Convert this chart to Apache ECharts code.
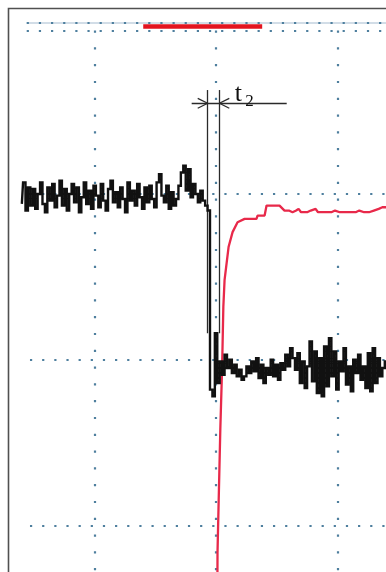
<!DOCTYPE html>
<html>
<head>
<meta charset="utf-8">
<script src="https://cdn.jsdelivr.net/npm/echarts@6/dist/echarts.min.js"></script>
<style>
  html, body { margin: 0; padding: 0; background: #fff; }
  #scope { width: 386px; height: 572px; }
</style>
</head>
<body>
<div id="scope"></div>
<script>
// Time base: 100 units per horizontal division, vertical: 100 units per division.
const T0 = 40;          // first black sample
const DT = 2;           // sample spacing

// Channel 1 (black): high level, falls at the switching instant, low level afterwards.
const ch1 = [
  294, 307, 290, 304, 293, 303, 291, 300, 307, 294,
  289, 304, 296, 306, 292, 299, 308, 293, 303, 290,
  300, 306, 295, 304, 289, 298, 307, 294, 302, 291,
  305, 299, 292, 306, 296, 290, 303, 308, 295, 301,
  292, 304, 297, 289, 307, 296, 302, 293, 306, 298,
  291, 304, 295, 305, 297, 292, 307, 312, 299, 295,
  305, 291, 301, 293, 297, 305, 313, 317, 302, 315,
  298, 306, 300, 295, 302, 296, 293, 290,
  182, 178, 216, 186, 199, 191, 203, 195, 200, 192,
  197, 190, 194, 188, 190, 196, 192, 199, 193, 201,
  189, 197, 186, 195, 191, 200, 190, 197, 188, 198,
  194, 203, 196, 207, 201, 194, 204, 186, 199, 183,
  196, 211, 187, 205, 180, 201, 178, 208, 184, 213,
  190, 205, 182, 199, 193, 207, 185, 196, 181, 200,
  192, 203, 188, 196, 183, 204, 181, 207, 186, 201,
  190, 195, 199
];

// Channel 2 (red): rise after the switching instant, settles near 289.
const ch2 = [
  [201, 40], [201.2, 84], [202, 110], [203.5, 158], [205, 196],
  [206, 232], [207, 248], [210.3, 268], [213.6, 277], [217.7, 283],
  [223.5, 285], [233.3, 285], [234.2, 287], [240, 287], [241.6, 293],
  [252.3, 293], [256.4, 290], [260, 290], [263, 289], [266, 290],
  [268, 291], [270, 289], [275, 289], [278, 290], [282, 291],
  [284, 289], [290, 289], [295, 289], [298, 290], [302, 289],
  [310, 289], [315, 289], [318, 290], [322, 289], [326, 289],
  [330, 290], [334, 291], [337, 292], [341, 292]
];

// Trigger/position bar along the top edge
const topBar = [[140, 401], [238, 401]];

// Cursor pair and the t2 interval marker
const cursors = [193.1, 202.7];
const cursorSpan = [216, 362.7];
const markerY = 354.7;
const markerSpan = [179.9, 258.2];
const labelMain = { text: 't', at: [215.4, 360.2] };
const labelSub = { text: '2', at: [224.0, 356] };

// Graticule
const divX = [100, 200, 300];
const divY = [100, 200, 300];
const topRows = [403.1, 398.3];

const xMin = 22, xMax = 340, yMin = 72, yMax = 417;

const ch1Data = ch1.map((v, i) => [T0 + i * DT, v]);

const dotColor = '#4e7f9e';
function seg(a, b) { return [{ coord: a }, { coord: b }]; }

function markerSeries(name, lines, lineStyle, z) {
  return {
    name, type: 'line', data: [], silent: true, z: z || 1,
    markLine: {
      silent: true, animation: false, symbol: ['none', 'none'],
      label: { show: false }, emphasis: { disabled: true },
      lineStyle: lineStyle,
      data: lines
    }
  };
}

const rowLines = divY.map(y => seg([46.7, y], [xMax, y]));
const colLines = divX.map(x => seg([x, 398.6], [x, yMin]));
const topDotLines = topRows.map(y => seg([44.0, y], [xMax, y]));
const topFaint = [seg([44.0, topRows[0]], [xMax, topRows[0]])];

const cursorLines = cursors.map(x => seg([x, cursorSpan[1]], [x, cursorSpan[0]]));
const ax = 8.2, ay = 3;
const arrowLines = [
  seg([markerSpan[0], markerY], [markerSpan[1], markerY]),
  seg([cursors[0] - ax, markerY + ay], [cursors[0], markerY]),
  seg([cursors[0] - ax, markerY - ay], [cursors[0], markerY]),
  seg([cursors[1] + ax, markerY + ay], [cursors[1], markerY]),
  seg([cursors[1] + ax, markerY - ay], [cursors[1], markerY])
];

const serif = 'Liberation Serif';

const chart = echarts.init(document.getElementById('scope'), null, { renderer: 'canvas' });
chart.setOption({
  animation: false,
  backgroundColor: '#ffffff',
  grid: { left: 0, right: 0, top: 0, bottom: 0 },
  xAxis: {
    type: 'value', min: xMin, max: xMax,
    axisLine: { show: false }, axisTick: { show: false },
    axisLabel: { show: false }, splitLine: { show: false }
  },
  yAxis: {
    type: 'value', min: yMin, max: yMax,
    axisLine: { show: false }, axisTick: { show: false },
    axisLabel: { show: false }, splitLine: { show: false }
  },
  graphic: [{
    type: 'rect', silent: true, z: 100,
    shape: { x: 8.5, y: 8.5, width: 420, height: 620 },
    style: { fill: null, stroke: '#505050', lineWidth: 1.6 }
  }],
  series: [
    markerSeries('faint', topFaint, { color: '#c3d2df', width: 1.6, type: 'solid' }, 1),
    markerSeries('rows', rowLines.concat(topDotLines),
      { color: dotColor, width: 2.2, type: [2.2, 9.95] }, 2),
    markerSeries('cols', colLines,
      { color: dotColor, width: 2.2, type: [2.2, 14.6] }, 2),
    {
      name: 'bar', type: 'line', data: topBar, clip: false, z: 5,
      symbol: 'none', silent: true,
      lineStyle: { color: '#e3141f', width: 4.5, cap: 'butt' }
    },
    {
      name: 'CH2', type: 'line', data: ch2, z: 6,
      symbol: 'none', silent: true,
      lineStyle: { color: '#e8294a', width: 2.3 }
    },
    {
      name: 'CH1', type: 'line', data: ch1Data, z: 7,
      symbol: 'none', silent: true, step: 'middle',
      lineStyle: { color: '#111111', width: 2.4, join: 'miter' }
    },
    Object.assign(
      markerSeries('cursor', cursorLines.concat(arrowLines),
        { color: '#2a2a2a', width: 1.3, type: 'solid' }, 8),
      {
        markPoint: {
          silent: true, animation: false, symbol: 'circle', symbolSize: 0,
          data: [
            { coord: labelMain.at, value: 0,
              label: { formatter: labelMain.text, fontFamily: serif, fontSize: 26 } },
            { coord: labelSub.at, value: 0,
              label: { formatter: labelSub.text, fontFamily: serif, fontSize: 17 } }
          ],
          label: { show: true, position: 'right', distance: 0, color: '#111' }
        }
      }
    )
  ]
});
</script>
</body>
</html>
